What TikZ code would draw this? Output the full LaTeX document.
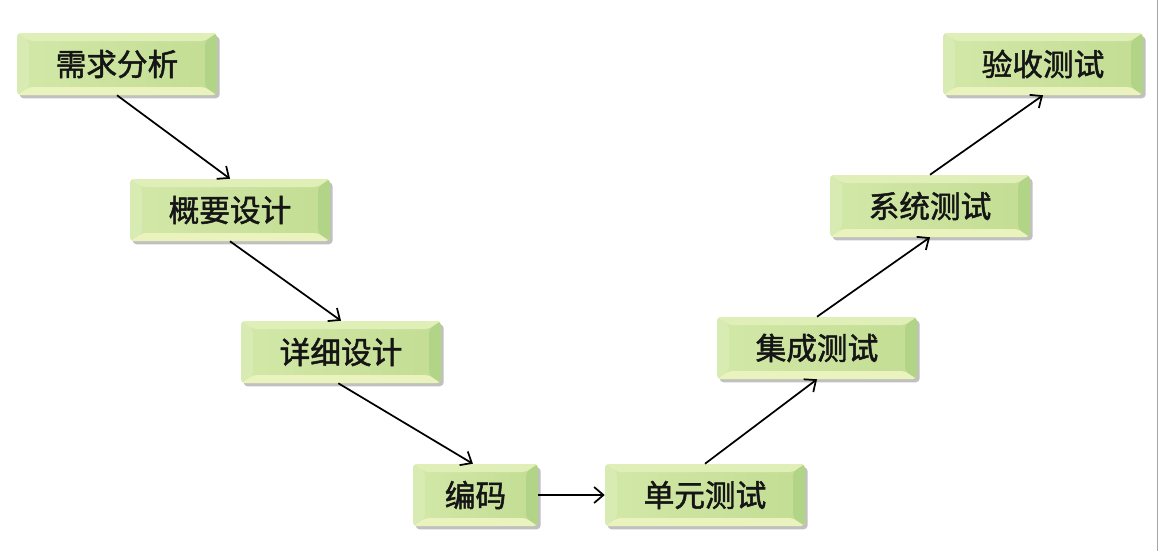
\documentclass[tikz,border=0pt]{standalone}
\usepackage{fontspec}
\newfontfamily\cjk{Noto Sans CJK SC}[FakeBold=1.6]
\usetikzlibrary{arrows.meta,shadows}
\definecolor{faceL}{HTML}{D2E8A8}
\definecolor{faceR}{HTML}{C3DD93}
\definecolor{bevT}{HTML}{E0EFB8}
\definecolor{bevL}{HTML}{D8EBB2}
\definecolor{bevR}{HTML}{B2D486}
\definecolor{bevB}{HTML}{EAF3BE}
\definecolor{txt}{HTML}{151515}
\tikzset{
  stage/.style={minimum width=150pt, minimum height=46.5pt, rounded corners=3pt,
    left color=faceL, right color=faceR,
    drop shadow={opacity=0.35, shadow xshift=2pt, shadow yshift=-2.5pt, fill=black!70},
    font=\cjk\fontsize{23}{27}\selectfont, text=txt,
    path picture={
      \fill[bevT] (path picture bounding box.north west) -- (path picture bounding box.north east)
        -- ([shift={(-9pt,-6pt)}]path picture bounding box.north east)
        -- ([shift={(9pt,-6pt)}]path picture bounding box.north west) -- cycle;
      \fill[bevB] (path picture bounding box.south west) -- (path picture bounding box.south east)
        -- ([shift={(-9pt,6pt)}]path picture bounding box.south east)
        -- ([shift={(9pt,6pt)}]path picture bounding box.south west) -- cycle;
      \fill[bevL] (path picture bounding box.north west) -- ([shift={(9pt,-6pt)}]path picture bounding box.north west)
        -- ([shift={(9pt,6pt)}]path picture bounding box.south west)
        -- (path picture bounding box.south west) -- cycle;
      \fill[bevR] (path picture bounding box.north east) -- ([shift={(-9pt,-6pt)}]path picture bounding box.north east)
        -- ([shift={(-9pt,6pt)}]path picture bounding box.south east)
        -- (path picture bounding box.south east) -- cycle;
    }},
  flow/.style={line width=1.3pt, draw=black, -{Straight Barb[length=7pt,width=12pt,line width=1.3pt]}}
}
\begin{document}
\begin{tikzpicture}[x=0.75pt,y=-0.75pt]
\useasboundingbox (0,0) rectangle (1159,551);
\fill[white] (0,0) rectangle (1159,551);
\draw[black!35, line width=0.8pt] (1157.5,0) -- (1157.5,551);
\node[stage] (a) at (117,64) {需求分析};
\node[stage] (b) at (230,210) {概要设计};
\node[stage] (c) at (341,352) {详细设计};
\node[stage, minimum width=93.75pt] (d) at (475.5,495) {编码};
\node[stage] (e) at (705,495) {单元测试};
\node[stage] (f) at (817,348) {集成测试};
\node[stage] (g) at (930,206) {系统测试};
\node[stage] (h) at (1043,64) {验收测试};
\draw[flow] (a.south) -- (b.north);
\draw[flow] (b.south) -- (c.north);
\draw[flow] ([xshift=-2pt]c.south) -- ([xshift=-2pt]d.north);
\draw[flow] (d.east) -- (e.west);
\draw[flow] (e.north) -- (f.south);
\draw[flow] (f.north) -- (g.south);
\draw[flow] (g.north) -- (h.south);
\end{tikzpicture}
\end{document}
